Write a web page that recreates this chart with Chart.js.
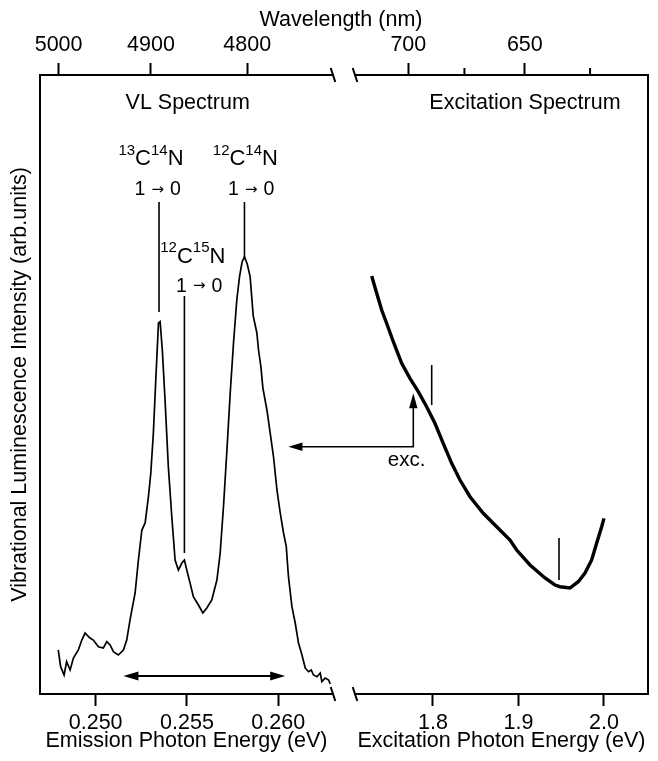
<!DOCTYPE html>
<html><head><meta charset="utf-8">
<script src="https://cdn.jsdelivr.net/npm/chart.js@4.4.1/dist/chart.umd.min.js"></script>
<style>
html,body{margin:0;padding:0;background:#fff;}
#wrap{position:relative;width:658px;height:761px;background:#fff;}
canvas{position:absolute;left:0;top:0;}
</style></head><body>
<div id="wrap"><canvas id="cL" width="658" height="761"></canvas><canvas id="cR" width="658" height="761"></canvas></div>
<script>
// ---------- data ----------
const vlEnergy = [0.24795,0.24808,0.24827,0.24841,0.24860,0.24878,0.24905,0.24924,0.24942,0.24969,
0.24987,0.25015,0.25042,0.25061,0.25079,0.25097,0.25124,0.25152,0.25170,0.25188,
0.25216,0.25234,0.25253,0.25271,0.25289,0.25302,0.25316,0.25331,0.25344,0.25353,
0.25365,0.25380,0.25398,0.25417,0.25435,0.25453,0.25472,0.25486,0.25499,0.25517,
0.25535,0.25563,0.25587,0.25609,0.25636,0.25664,0.25682,0.25700,0.25719,0.25737,
0.25755,0.25773,0.25788,0.25802,0.25815,0.25830,0.25846,0.25863,0.25883,0.25892,
0.25905,0.25916,0.25938,0.25956,0.25974,0.25993,0.26011,0.26029,0.26044,0.26056,
0.26075,0.26093,0.26111,0.26130,0.26148,0.26166,0.26181,0.26193,0.26212,0.26230,
0.26239,0.26257,0.26276,0.26285];
const vlIntensity = [7.11,4.41,3.07,5.22,3.88,5.82,7.11,8.72,9.85,9.05,
8.72,7.64,7.43,8.45,7.92,6.83,6.30,7.11,8.72,11.95,
16.32,21.65,26.49,27.63,31.87,35.70,42.16,51.86,59.94,60.15,
55.57,47.50,36.72,28.64,21.65,20.03,21.16,21.65,20.03,17.93,
15.72,14.38,13.09,13.89,15.19,18.42,22.78,30.26,39.42,48.63,
56.70,63.65,67.42,69.79,70.65,69.47,67.42,61.07,58.32,55.57,
52.88,49.43,45.88,42.16,38.34,32.96,29.24,26.01,23.80,18.95,
14.10,11.47,8.24,6.30,4.20,3.60,3.88,3.07,2.79,3.39,
1.99,2.58,2.26,1.62];
const excEnergy = [1.7283,1.7342,1.7400,1.7458,1.7536,1.7634,1.7731,1.7828,1.7926,1.8023,
1.8120,1.8219,1.8316,1.8433,1.8588,1.8745,1.8901,1.8979,1.9135,1.9310,
1.9427,1.9485,1.9602,1.9699,1.9778,1.9856,1.9915,1.9973,2.0000];
const excIntensity = [67.53,64.73,62.04,59.89,56.91,53.43,51.00,48.84,46.41,43.73,
40.50,37.27,34.57,31.87,29.19,27.03,24.88,23.26,20.84,18.74,
17.61,17.33,17.12,18.14,19.55,21.65,24.39,27.03,28.38];
const emissionTicks = [0.250, 0.255, 0.260];
const excitationTicks = [1.8, 1.9, 2.0];
const vlWavelengthTicks = [5000, 4900, 4800];
const excWavelengthTicks = [700, 650];
const excWavelengthMinor = [675, 625];
const HC = 1239.84; // eV*nm

// ---------- styling ----------
const FAM = "'Liberation Sans', Arial, Helvetica, sans-serif";
const FONT = {family: FAM, size: 21.5};
Chart.defaults.font.family = FAM;
Chart.defaults.color = '#000';

function bottomAxis(min, max, ticks, title, dec) {
  return {
    type: 'linear', position: 'bottom', min, max,
    afterBuildTicks: s => { s.ticks = ticks.map(v => ({value: v})); },
    afterFit: s => { s.height = 67; },
    grid: {display: true, drawOnChartArea: false, drawTicks: true, tickLength: 12, tickWidth: 2, tickColor: '#000'},
    border: {display: true, color: '#000', width: 2},
    ticks: {color: '#000', font: FONT, padding: 4, maxRotation: 0, autoSkip: false, callback: v => Number(v).toFixed(dec)},
    title: {display: true, text: title, color: '#000', font: FONT, padding: {top: 0, bottom: 7}}
  };
}
function topAxis(min, max, wl) {
  return {
    type: 'linear', position: 'top', min, max,
    afterBuildTicks: s => { s.ticks = wl.map(w => ({value: HC / w})); },
    afterFit: s => { s.height = 75; },
    grid: {display: true, drawOnChartArea: false, drawTicks: true, tickLength: 12, tickWidth: 2, tickColor: '#000'},
    border: {display: true, color: '#000', width: 2},
    ticks: {color: '#000', font: FONT, padding: 5, maxRotation: 0, autoSkip: false, callback: v => String(Math.round(HC / v))}
  };
}
function arrowHead(ctx, tx, ty, dx, dy, len, hw) {
  const px = -dy, py = dx;
  ctx.beginPath();
  ctx.moveTo(tx, ty);
  ctx.lineTo(tx - dx * len + px * hw, ty - dy * len + py * hw);
  ctx.lineTo(tx - dx * len - px * hw, ty - dy * len - py * hw);
  ctx.closePath();
  ctx.fill();
}
function seg(ctx, x1, y1, x2, y2, w) {
  ctx.lineWidth = w;
  ctx.beginPath(); ctx.moveTo(x1, y1); ctx.lineTo(x2, y2); ctx.stroke();
}
function breakMark(ctx, x, y) { seg(ctx, x - 2.3, y - 7, x + 2.3, y + 7, 2); }
function drawIso(ctx, parts, cx, baseY) {
  const big = '22px ' + FAM, sup = '15px ' + FAM;
  let w = 0;
  const ws = parts.map((p, i) => { ctx.font = i % 2 === 0 ? sup : big; const m = ctx.measureText(p).width; w += m; return m; });
  let x = cx - w / 2;
  ctx.textAlign = 'left'; ctx.textBaseline = 'alphabetic';
  parts.forEach((p, i) => { ctx.font = i % 2 === 0 ? sup : big; ctx.fillText(p, x, i % 2 === 0 ? baseY - 10.5 : baseY); x += ws[i]; });
}
function trans(ctx, cx, baseY) {
  // "1 → 0" drawn as three text runs with gaps (arrow glyph from DejaVu Sans)
  const numF = '19.5px ' + FAM, arrF = '15px "DejaVu Sans", sans-serif';
  const runs = [['1', numF], ['\u2192', arrF], ['0', numF]];
  const gap = 6;
  let w = 2 * gap;
  const ws = runs.map(r => { ctx.font = r[1]; const m = ctx.measureText(r[0]).width; w += m; return m; });
  let x = cx - w / 2;
  ctx.textAlign = 'left'; ctx.textBaseline = 'alphabetic';
  runs.forEach((r, i) => { ctx.font = r[1]; ctx.fillText(r[0], x, i === 1 ? baseY - 1.5 : baseY); x += ws[i] + gap; });
}

// ---------- annotations (data units) ----------
const vlPeaks = [
  {iso: ['13', 'C', '14', 'N'], labelE: 0.25303, labelI: 85.46, transE: 0.25340, transI: 80.61, lineE: 0.25347, lineTop: 79.48, lineBot: 61.71},
  {iso: ['12', 'C', '14', 'N'], labelE: 0.25820, labelI: 85.46, transE: 0.25852, transI: 80.61, lineE: 0.25815, lineTop: 79.48, lineBot: 70.60},
  {iso: ['12', 'C', '15', 'N'], labelE: 0.25532, labelI: 69.68, transE: 0.25567, transI: 64.99, lineE: 0.25486, lineTop: 64.30, lineBot: 22.78}
];

let leftChart = null;

const leftPlugin = {
  id: 'leftAnno',
  afterDraw(chart) {
    const ctx = chart.ctx, xs = chart.scales.x, ys = chart.scales.y, ca = chart.chartArea;
    const X = v => xs.getPixelForValue(v), Y = v => ys.getPixelForValue(v);
    ctx.save();
    ctx.fillStyle = '#000'; ctx.strokeStyle = '#000';
    ctx.font = '21.5px ' + FAM; ctx.textAlign = 'center'; ctx.textBaseline = 'middle';
    ctx.fillText('Wavelength (nm)', 341, 20);
    ctx.fillText('VL Spectrum', X(0.25504), Y(95.48));
    vlPeaks.forEach(p => {
      drawIso(ctx, p.iso, X(p.labelE), Y(p.labelI));
      trans(ctx, X(p.transE), Y(p.transI));
      seg(ctx, X(p.lineE), Y(p.lineTop), X(p.lineE), Y(p.lineBot), 1.6);
    });
    const ya = Y(2.91), xa1 = X(0.25152), xa2 = X(0.26038);
    seg(ctx, xa1 + 10, ya, xa2 - 10, ya, 2);
    arrowHead(ctx, xa1, ya, -1, 0, 15, 4.5);
    arrowHead(ctx, xa2, ya, 1, 0, 15, 4.5);
    breakMark(ctx, ca.right, ca.top);
    breakMark(ctx, ca.right, ca.bottom);
    ctx.restore();
  }
};

const rightPlugin = {
  id: 'rightAnno',
  afterDraw(chart) {
    const ctx = chart.ctx, xs = chart.scales.x, ys = chart.scales.y, xt = chart.scales.xTop, ca = chart.chartArea;
    const X = v => xs.getPixelForValue(v), Y = v => ys.getPixelForValue(v);
    ctx.save();
    ctx.fillStyle = '#000'; ctx.strokeStyle = '#000';
    ctx.font = '21.5px ' + FAM; ctx.textAlign = 'center'; ctx.textBaseline = 'middle';
    ctx.fillText('Excitation Spectrum', X(1.9076), Y(95.48));
    seg(ctx, X(1.7985), Y(53.15), X(1.7985), Y(46.68), 1.6);
    seg(ctx, X(1.9474), Y(25.2), X(1.9474), Y(18.42), 1.6);
    const yh = Y(39.95), xc = X(1.7770), ytip = Y(48.58);
    const xl = leftChart ? leftChart.scales.x.getPixelForValue(0.26056) : 288;
    ctx.lineWidth = 1.6;
    ctx.beginPath(); ctx.moveTo(xl + 10, yh); ctx.lineTo(xc, yh); ctx.lineTo(xc, ytip + 10); ctx.stroke();
    arrowHead(ctx, xl, yh, -1, 0, 14, 4.2);
    arrowHead(ctx, xc, ytip, 0, -1, 15, 4.2);
    ctx.font = '20.5px ' + FAM; ctx.textAlign = 'center'; ctx.textBaseline = 'middle';
    ctx.fillText('exc.', X(1.7692), Y(37.69));
    excWavelengthMinor.forEach(w => { const x = xt.getPixelForValue(HC / w); seg(ctx, x, ca.top, x, ca.top - 7, 2); });
    breakMark(ctx, ca.left, ca.top);
    breakMark(ctx, ca.left, ca.bottom);
    ctx.restore();
  }
};

const VL_MIN = 0.24695, VL_MAX = 0.26300;
const EX_MIN = 1.7088, EX_MAX = 2.0515;

leftChart = new Chart(document.getElementById('cL'), {
  type: 'line',
  data: {datasets: [{
    data: vlEnergy.map((e, i) => ({x: e, y: vlIntensity[i]})),
    borderColor: '#000', borderWidth: 1.7, pointRadius: 0, fill: false, tension: 0, xAxisID: 'x', yAxisID: 'y'
  }]},
  options: {
    responsive: false, animation: false, devicePixelRatio: 1,
    layout: {padding: {left: 0, right: 325, top: 0, bottom: 0}},
    plugins: {legend: {display: false}, tooltip: {enabled: false}},
    scales: {
      x: bottomAxis(VL_MIN, VL_MAX, emissionTicks, 'Emission Photon Energy (eV)', 3),
      xTop: topAxis(VL_MIN, VL_MAX, vlWavelengthTicks),
      y: {
        type: 'linear', position: 'left', min: 0, max: 100,
        afterFit: s => { s.width = 40; },
        grid: {display: false}, ticks: {display: false},
        border: {display: true, color: '#000', width: 2},
        title: {display: true, text: 'Vibrational Luminescence Intensity (arb.units)', color: '#000', font: FONT, padding: {top: 7, bottom: 0}}
      }
    }
  },
  plugins: [leftPlugin]
});

new Chart(document.getElementById('cR'), {
  type: 'line',
  data: {datasets: [{
    data: excEnergy.map((e, i) => ({x: e, y: excIntensity[i]})),
    borderColor: '#000', borderWidth: 3.4, pointRadius: 0, fill: false, tension: 0, xAxisID: 'x', yAxisID: 'y'
  }]},
  options: {
    responsive: false, animation: false, devicePixelRatio: 1,
    layout: {padding: {left: 355, right: 0, top: 0, bottom: 0}},
    plugins: {legend: {display: false}, tooltip: {enabled: false}},
    scales: {
      x: bottomAxis(EX_MIN, EX_MAX, excitationTicks, 'Excitation Photon Energy (eV)', 1),
      xTop: topAxis(EX_MIN, EX_MAX, excWavelengthTicks),
      y: {
        type: 'linear', position: 'right', min: 0, max: 100,
        afterFit: s => { s.width = 10; },
        grid: {display: false}, ticks: {display: false},
        border: {display: true, color: '#000', width: 2}
      }
    }
  },
  plugins: [rightPlugin]
});
</script>
</body></html>
